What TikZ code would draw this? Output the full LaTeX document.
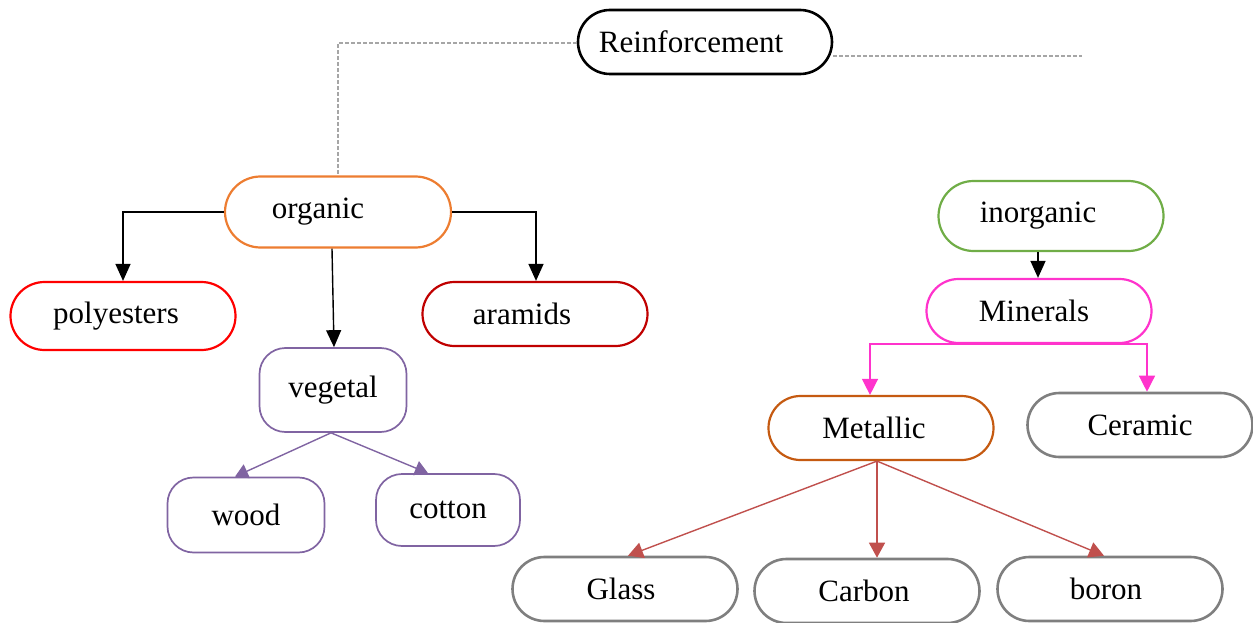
\documentclass[tikz,border=0pt]{standalone}
\usepackage{fontspec}
\setmainfont{Liberation Serif}
\usetikzlibrary{arrows.meta,shapes.misc}
\definecolor{orgc}{HTML}{ED7D31}
\definecolor{polyc}{HTML}{FF0000}
\definecolor{arac}{HTML}{C00000}
\definecolor{vegc}{HTML}{8064A2}
\definecolor{inorgc}{HTML}{70AD47}
\definecolor{minc}{HTML}{FF33CC}
\definecolor{metc}{HTML}{C55A11}
\definecolor{greyc}{HTML}{7F7F7F}
\definecolor{redarr}{HTML}{C0504D}
\definecolor{dashc}{HTML}{A6A6A6}
\newcommand\tx[2]{\kern#1pt\relax #2}
\tikzset{
  box/.style={draw, line width=2.2pt, fill=white, inner sep=0pt,
    font=\fontsize{31}{36}\selectfont},
  pill/.style={box, rounded rectangle, minimum width=225pt, minimum height=64pt},
  soft/.style={box, rounded corners=26pt},
  conn/.style={line width=1.4pt, -{Triangle[length=17pt,width=15pt]}},
  vconn/.style={line width=1.4pt, color=vegc, -{Triangle[length=13pt,width=15pt]}},
  rconn/.style={line width=1.4pt, color=redarr, -{Triangle[length=15pt,width=16pt]}},
  mconn/.style={line width=1.4pt, color=minc, -{Triangle[length=16pt,width=16pt]}},
  dashline/.style={draw=dashc, line width=1.2pt, dash pattern=on 4pt off 2pt}
}
\begin{document}
\begin{tikzpicture}[x=1pt,y=-1pt]
\useasboundingbox (0,0) rectangle (1253,623);
% nodes
\node[pill, line width=2.6pt, minimum width=254pt, minimum height=64pt] (reinf) at (705,42) {\tx{-28}{Reinforcement}};
\node[pill, draw=orgc, minimum width=226pt, minimum height=71pt] (organic) at (338,212) {\tx{-40}{organic}};
\node[pill, draw=polyc, minimum height=68pt] (poly) at (123,316) {\tx{-14}{polyesters}};
\node[pill, draw=arac] (aramids) at (535,314) {\tx{-26}{aramids}};
\node[soft, draw=vegc, line width=1.7pt, minimum width=147pt, minimum height=84pt] (vegetal) at (333,390) {vegetal};
\node[soft, draw=vegc, line width=1.7pt, minimum width=157pt, minimum height=75pt] (wood) at (246,515) {wood};
\node[soft, draw=vegc, line width=1.7pt, minimum width=144pt, minimum height=72pt] (cotton) at (448,510) {cotton};
\node[pill, draw=inorgc, minimum height=70pt] (inorganic) at (1051,216) {\tx{-26}{inorganic}};
\node[pill, draw=minc] (minerals) at (1039,311) {\tx{-10}{Minerals}};
\node[pill, draw=metc] (metallic) at (881,428) {\tx{-14}{Metallic}};
\node[pill, draw=greyc, line width=2.6pt] (ceramic) at (1140,425) {Ceramic};
\node[pill, draw=greyc, line width=2.6pt] (glass) at (625,589) {\tx{-8}{Glass}};
\node[pill, draw=greyc, line width=2.6pt] (carbon) at (867,591) {\tx{-6}{Carbon}};
\node[pill, draw=greyc, line width=2.6pt] (boron) at (1110,589) {\tx{-8}{boron}};
\coordinate (rend) at (1082,56);
% dashed connectors
\draw[dashline] ([yshift=-1pt]reinf.west) -| (organic.north);
\draw[dashline] ([yshift=-14pt]reinf.east) -- (rend);
% organic
\draw[conn] (organic.west) -| (poly.north);
\draw[conn] (organic.east) -| ([xshift=1pt]aramids.north);
\draw[conn] ([xshift=-6pt]organic.south) -- ([xshift=1pt]vegetal.north);
\draw[vconn] ([xshift=-2pt]vegetal.south) -- ([xshift=-11pt]wood.north);
\draw[vconn] ([xshift=-2pt]vegetal.south) -- ([xshift=-20pt]cotton.north);
% inorganic
\draw[conn] ([xshift=-13pt]inorganic.south) -- ([xshift=-1pt]minerals.north);
\draw[mconn] (minerals.south) -| ([xshift=-11pt]metallic.north);
\draw[mconn] (minerals.south) -| ([xshift=7pt]ceramic.north);
\draw[rconn] ([xshift=-4pt]metallic.south) -- ([xshift=3pt]glass.north);
\draw[rconn] ([xshift=-4pt]metallic.south) -- ([xshift=10pt]carbon.north);
\draw[rconn] ([xshift=-4pt]metallic.south) -- ([xshift=-6pt]boron.north);
\end{tikzpicture}
\end{document}
